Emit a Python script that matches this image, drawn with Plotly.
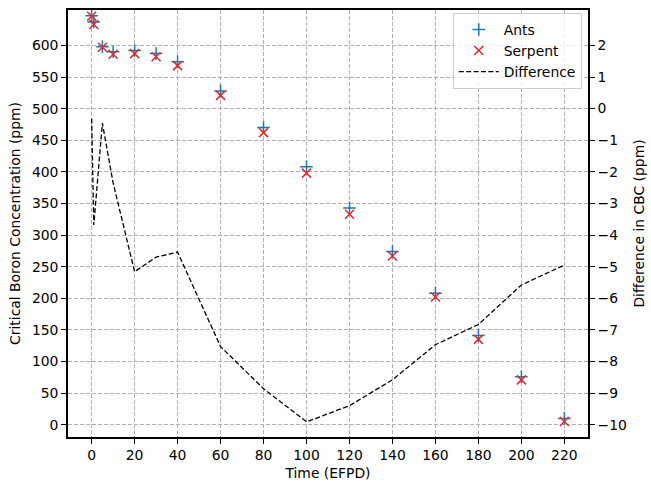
import plotly.graph_objects as go

# Data
time = [0, 1, 5, 10, 20, 30, 40, 60, 80, 100, 120, 140, 160, 180, 200, 220]
ants = [647, 637, 598, 590, 592, 587, 574, 528, 470, 408, 343, 274, 208, 141, 76, 10]
serpent = [646, 633, 597, 586, 587, 582, 568, 521, 462, 398, 333, 267, 202, 135, 71, 5]
difference = [-0.31, -3.68, -0.46, -2.35, -5.16, -4.70, -4.54, -7.53, -8.86, -9.91,
              -9.40, -8.58, -7.47, -6.83, -5.58, -4.95]

x_ticks = list(range(0, 221, 20))
left_ticks = list(range(0, 601, 50))
right_ticks = list(range(-10, 3, 1))

FONT = dict(family="DejaVu Sans", size=13.9, color="black")

fig = go.Figure()
fig.add_trace(go.Scatter(
    x=time, y=ants, mode="markers", name="Ants",
    marker=dict(symbol="cross-thin", size=9, color="#1f77b4",
                line=dict(color="#1f77b4", width=1.5)),
))
fig.add_trace(go.Scatter(
    x=time, y=serpent, mode="markers", name="Serpent",
    marker=dict(symbol="x-thin", size=9, color="#e02a2a",
                line=dict(color="#e02a2a", width=1.5)),
))
fig.add_trace(go.Scatter(
    x=time, y=difference, mode="lines", name="Difference", yaxis="y2",
    line=dict(color="black", width=1.3, dash="5px,2.4px"),
))

axis_common = dict(
    showline=True, linecolor="black", linewidth=1.6,
    ticks="outside", ticklen=5, tickwidth=1.1, tickcolor="black",
    tickfont=FONT, zeroline=False, automargin=False,
)

fig.update_layout(
    width=651, height=483,
    margin=dict(l=68, r=63, t=10, b=46),
    paper_bgcolor="white", plot_bgcolor="white",
    font=FONT,
    xaxis=dict(
        range=[-11, 231], tickvals=x_ticks, mirror=True,
        showgrid=True, gridcolor="#b0b0b0", gridwidth=1, griddash="4px,2px",
        title=dict(text="Time (EFPD)", font=FONT, standoff=6),
        **axis_common,
    ),
    yaxis=dict(
        range=[-19.4, 656], tickvals=left_ticks,
        showgrid=True, gridcolor="#b0b0b0", gridwidth=1, griddash="4px,2px",
        title=dict(text="Critical Boron Concentration (ppm)", font=FONT, standoff=8),
        **axis_common,
    ),
    yaxis2=dict(
        overlaying="y", side="right",
        range=[-10.39, 3.12], tickvals=right_ticks,
        showgrid=False,
        title=dict(text="Difference in CBC (ppm)", font=FONT, standoff=8),
        **axis_common,
    ),
    legend=dict(
        x=0.988, y=0.993, xanchor="right", yanchor="top",
        bgcolor="rgba(255,255,255,0.8)", bordercolor="#cccccc", borderwidth=1,
        font=FONT, tracegroupgap=0, itemwidth=40,
    ),
    showlegend=True,
)

fig.write_html("out.html")
